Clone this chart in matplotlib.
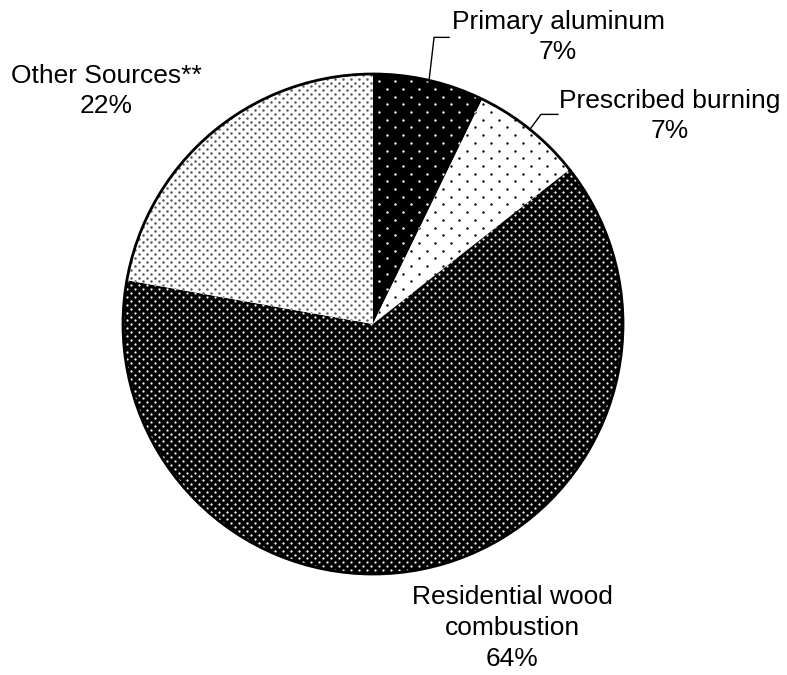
import numpy as np
import matplotlib
matplotlib.use('Agg')
import matplotlib.pyplot as plt
from matplotlib.patches import Circle

plt.rcParams['font.family'] = ['Liberation Sans', 'DejaVu Sans']

# data
sources = ['Primary aluminum', 'Prescribed burning', 'Residential wood\ncombustion', 'Other Sources**']
shares = [7.2, 7.2, 63.4, 22.2]
pct_labels = ['7%', '7%', '64%', '22%']

# style per slice: face, dot colour, dot lattice (dx, dy), dot size
faces = ['black', 'white', 'black', 'white']
dots = ['white', 'black', 'white', '#555555']
lattice = [(16, 7.7), (16, 7.7), (8, 3.9), (8, 3.9)]
dot_size = [3.0, 3.0, 2.6, 3.2]

W, H = 787, 675
fig = plt.figure(figsize=(W / 100, H / 100), dpi=100)
ax = fig.add_axes([0, 0, 1, 1])


def Y(y):
    # picture coordinates (from top) -> axes coordinates
    return H - y


cx, cy, R = 373, Y(324), 250

wedges, _ = ax.pie(shares, startangle=90, counterclock=False,
                   center=(cx, cy), radius=R, colors=faces,
                   wedgeprops=dict(linewidth=0))

ax.set_xlim(0, W)
ax.set_ylim(0, H)
ax.set_aspect('equal')
ax.axis('off')

# dotted textures, clipped to each wedge
for w, c, (dx, dy), s in zip(wedges, dots, lattice, dot_size):
    rows = np.arange(-R, R + dy, dy)
    px, py = [], []
    for k, ry in enumerate(rows):
        xs = np.arange(-R, R + dx, dx) + (dx / 2 if k % 2 else 0)
        px.extend(cx + xs)
        py.extend([cy + ry] * len(xs))
    sc = ax.scatter(px, py, s=s, c=c, marker='o', linewidths=0, zorder=3)
    sc.set_clip_path(w)

ax.add_patch(Circle((cx, cy), R, fill=False, ec='black', lw=2.0, zorder=5))

# labels
fs = 19
label_pos = [(558, 37), (670, 116), (512, 628), (106, 91)]
for name, pct, (x, y) in zip(sources, pct_labels, label_pos):
    ax.text(x, Y(y), name + '\n' + pct, ha='center', va='center',
            fontsize=fs, linespacing=1.35)

# leader lines for the two small slices
cum = np.cumsum([0] + shares)
elbows = [(5, -43, 15), (11, -15, 17)]
for i, (ex, ey, hx) in enumerate(elbows):
    mid = (cum[i] + cum[i + 1]) / 2 / 100 * 2 * np.pi
    x0 = cx + R * np.sin(mid)
    y0 = cy + R * np.cos(mid)
    xs = [x0, x0 + ex, x0 + ex + hx]
    ys = [y0, y0 - ey, y0 - ey]
    ax.plot(xs, ys, color='black', lw=1, zorder=6)

fig.savefig('out.png', dpi=100)
